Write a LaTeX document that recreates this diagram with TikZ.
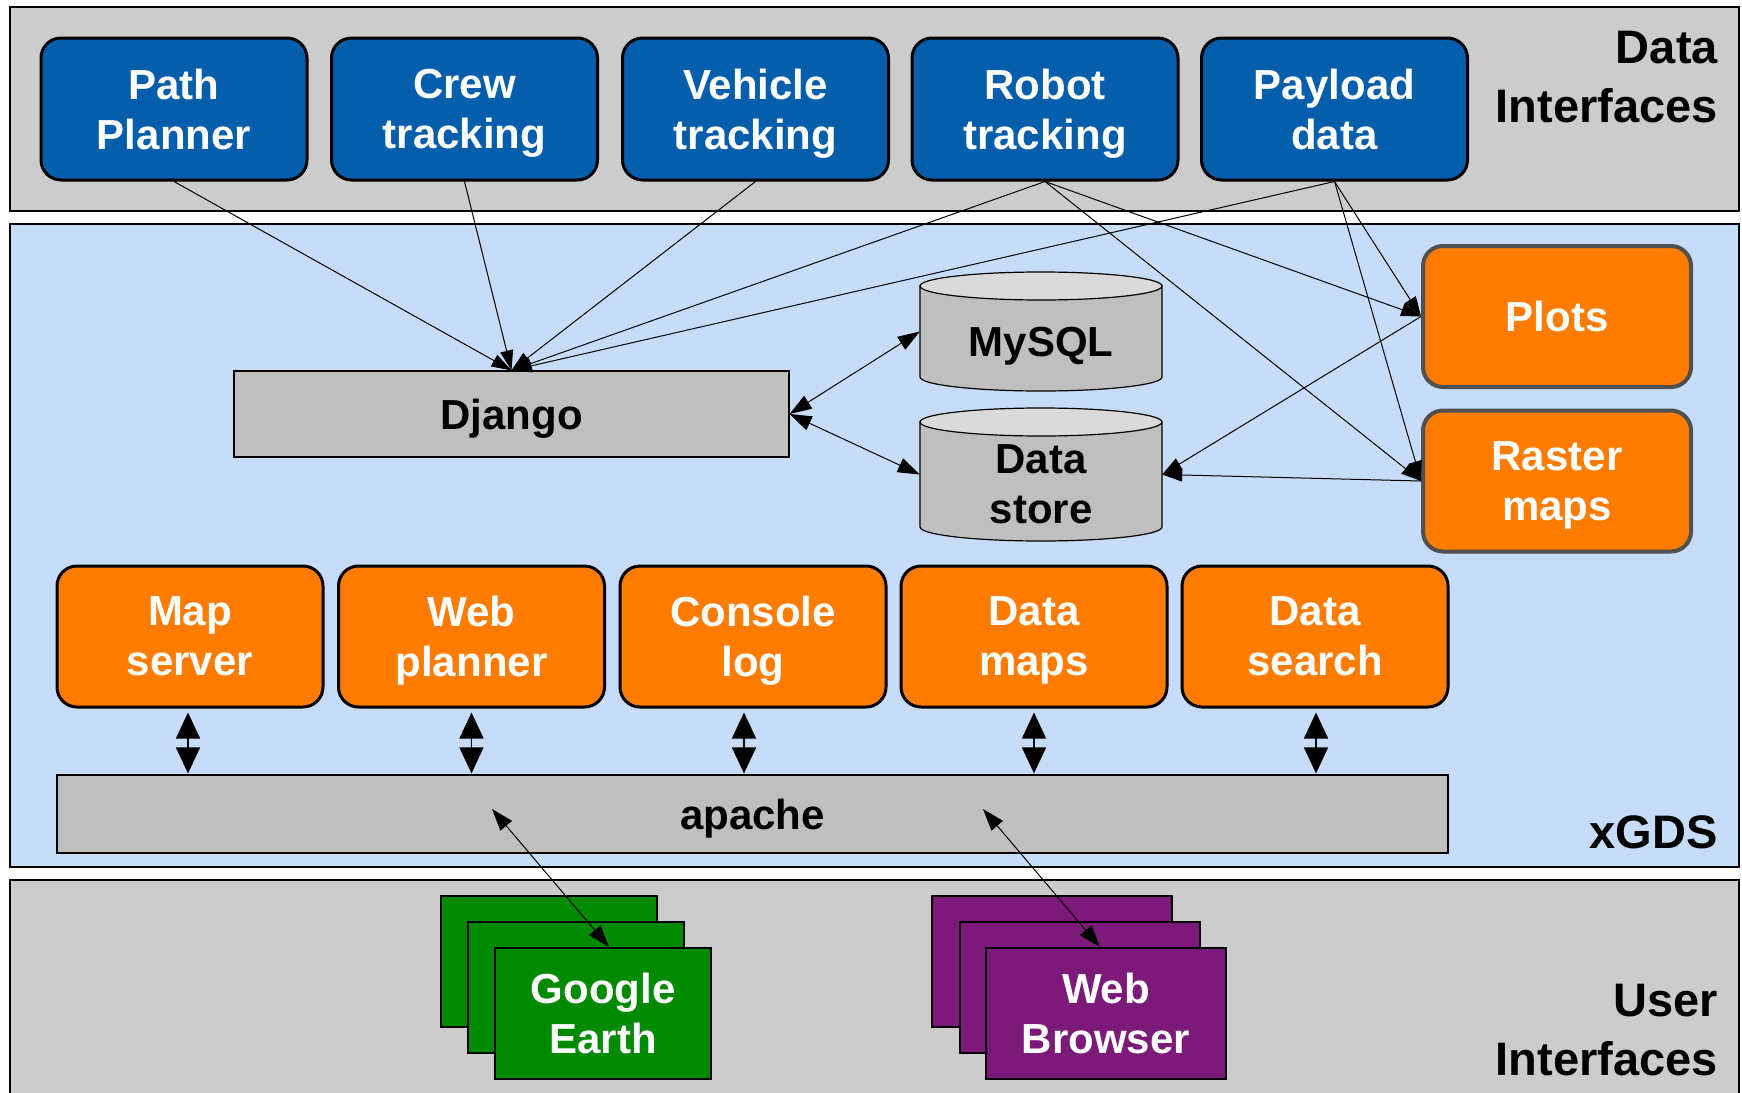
\documentclass[tikz,border=0pt]{standalone}
\usepackage{fontspec}
\setmainfont{Liberation Sans}
\usetikzlibrary{arrows.meta,calc}
\definecolor{diblue}{HTML}{055EAB}
\definecolor{xorange}{HTML}{FF7C00}
\definecolor{bandgray}{HTML}{CCCCCC}
\definecolor{bandblue}{HTML}{C6DCF8}
\definecolor{bargray}{HTML}{BFBFBF}
\definecolor{cyltop}{HTML}{DADADA}
\definecolor{gegreen}{HTML}{008A00}
\definecolor{wbpurple}{HTML}{7B1A78}
\definecolor{sideborder}{HTML}{505050}
\newcommand\boxfont{\fontsize{42}{50}\selectfont\bfseries}
\newcommand\lblfont{\fontsize{47}{59}\selectfont\bfseries}
\begin{document}
\begin{tikzpicture}[x=1pt,y=-1pt,
  band/.style={draw=black,line width=1.5pt},
  rbox/.style={rounded corners=20pt, draw=black, line width=3pt, minimum width=266pt, minimum height=142pt, text=white, font=\boxfont, align=center, text depth=0pt, inner sep=0pt},
  dibox/.style={rbox, fill=diblue},
  obox/.style={rbox, fill=xorange, minimum height=141pt},
  sidebox/.style={rbox, fill=xorange, draw=sideborder, line width=4pt, minimum width=268pt, minimum height=141pt},
  bar/.style={draw=black, line width=1.2pt, fill=bargray, font=\boxfont, text=black, text depth=0pt, inner sep=0pt},
  cylnode/.style={minimum width=242pt, minimum height=119pt, inner sep=0pt},
  cylshape/.style={draw=black, line width=1.2pt},
  stack/.style={draw=black, line width=2pt, inner sep=0pt, text=white, font=\boxfont, align=center, text depth=0pt},
  conn/.style={line width=1pt, -{Triangle[length=20pt,width=13pt]}},
  dconn/.style={line width=1pt, {Triangle[length=22pt,width=15pt]}-{Triangle[length=22pt,width=15pt]}},
  bigd/.style={line width=1.5pt, {Triangle[length=26pt,width=24pt]}-{Triangle[length=26pt,width=24pt]}},
  lbl/.style={font=\lblfont, align=right, inner sep=0pt, text=black}
]
\useasboundingbox (0,0) rectangle (1742,1092);
% bands
\draw[band, fill=bandgray] (10,7) rectangle (1739,211);
\draw[band, fill=bandblue] (10,224) rectangle (1739,867);
\draw[band, fill=bandgray] (10,880) rectangle (1739,1110);
% labels
\node[lbl, anchor=north east] (lbldi) at (1718,30.5) {Data\\Interfaces};
\node[lbl, anchor=base east] (lblx) at (1718,848) {xGDS};
\node[lbl, anchor=north east] (lblui) at (1718,983.5) {User\\Interfaces};
% data interfaces
\node[dibox] (pp) at (174,109) {Path\\Planner};
\node[dibox] (crew) at (464.5,109) {Crew\\tracking};
\node[dibox] (veh) at (755.5,109) {Vehicle\\tracking};
\node[dibox] (rob) at (1045,109) {Robot\\tracking};
\node[dibox] (pay) at (1334.5,109) {Payload\\data};
% django
\node[bar, minimum width=555pt, minimum height=86pt] (dj) at (511.5,414) {Django};
% MySQL cylinder
\path[cylshape, fill=bargray] (920,286) -- (920,377) arc[start angle=180,end angle=360,x radius=121pt,y radius=14pt] -- (1162,286) -- cycle;
\draw[cylshape, fill=cyltop] (1041,286) ellipse [x radius=121pt, y radius=14pt];
\node[cylnode, label={[font=\boxfont, text depth=0pt, yshift=-10.5pt, inner sep=0pt]center:MySQL}] (my) at (1041,331.5) {};
% Data store cylinder
\path[cylshape, fill=bargray] (920,422) -- (920,527) arc[start angle=180,end angle=360,x radius=121pt,y radius=14pt] -- (1162,422) -- cycle;
\draw[cylshape, fill=cyltop] (1041,422) ellipse [x radius=121pt, y radius=14pt];
\node[cylnode, minimum height=133pt, label={[font=\boxfont, align=center, text depth=0pt, yshift=-10pt, inner sep=0pt]center:{Data\\store}}] (ds) at (1041,474.5) {};
% side boxes
\node[sidebox] (plots) at (1557,316.5) {Plots};
\node[sidebox] (raster) at (1557,481) {Raster\\maps};
% orange row
\node[obox] (ms) at (190,636.5) {Map\\server};
\node[obox] (wp) at (471.5,636.5) {Web\\planner};
\node[obox] (cl) at (753,636.5) {Console\\log};
\node[obox] (dm) at (1034,636.5) {Data\\maps};
\node[obox] (dsr) at (1315,636.5) {Data\\search};
% apache
\node[bar, minimum width=1391pt, minimum height=78pt] (ap) at (752.5,814) {apache};
% stacks
\node[stack, fill=gegreen, minimum width=216pt, minimum height=131pt] (ge1) at (549,961.5) {};
\node[stack, fill=gegreen, minimum width=216pt, minimum height=131pt] (ge2) at (575.5,987) {};
\node[stack, fill=gegreen, minimum width=216pt, minimum height=131pt] (ge) at (603,1013.5) {Google\\Earth};
\node[stack, fill=wbpurple, minimum width=240pt, minimum height=131pt] (wb1) at (1052,961.5) {};
\node[stack, fill=wbpurple, minimum width=240pt, minimum height=131pt] (wb2) at (1080,987) {};
\node[stack, fill=wbpurple, minimum width=240pt, minimum height=131pt] (wb) at (1106,1013.5) {Web\\Browser};
% connectors
\foreach \s in {pp,crew,veh,rob,pay} \draw[conn] (\s.south) -- (dj.north);
\draw[conn] (rob.south) -- (plots.west);
\draw[conn] (rob.south) -- (raster.west);
\draw[conn] (pay.south) -- (plots.west);
\draw[conn] (pay.south) -- (raster.west);
\draw[conn] (plots.west) -- (ds.east);
\draw[conn] (raster.west) -- (ds.east);
\draw[dconn] (dj.east) -- (my.west);
\draw[dconn] (dj.east) -- (ds.west);
\coordinate (apL) at (492,809);
\coordinate (apR) at (983,809);
\draw[dconn] (apL) -- ($(ge.north)+(6,0)$);
\draw[dconn] (apR) -- ($(wb.north)+(-6,0)$);
\foreach \n/\dx in {ms/-2,wp/0,cl/-9,dm/0,dsr/1}
  \draw[bigd] ($(\n.south)+(\dx,4)$) -- ($(\n.south |- ap.north)+(\dx,-1)$);
\end{tikzpicture}
\end{document}
